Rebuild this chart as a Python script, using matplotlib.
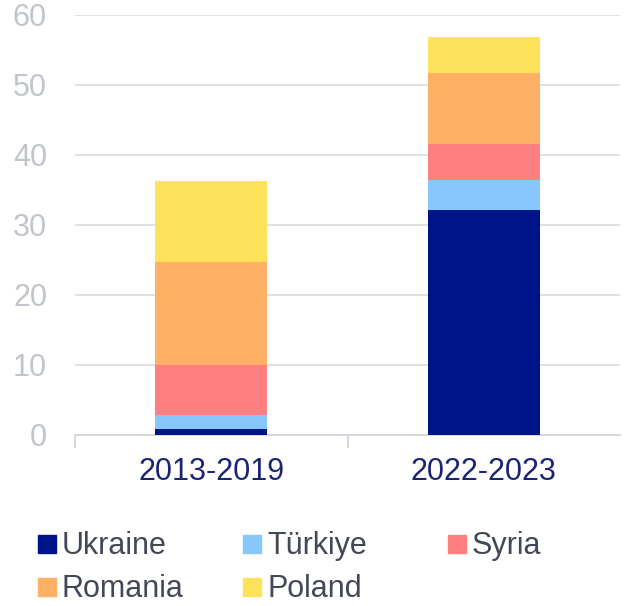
import numpy as np
import matplotlib.pyplot as plt
from matplotlib.patches import Rectangle

plt.rcParams['font.family'] = ['Liberation Sans', 'DejaVu Sans']

periods = ["2013-2019", "2022-2023"]
countries = ["Ukraine", "Türkiye", "Syria", "Romania", "Poland"]
ukraine = [0.8, 32.1]
turkiye = [2.0, 4.3]
syria = [7.2, 5.1]
romania = [14.6, 10.1]
poland = [11.6, 5.2]
colors = ["#001489", "#87c7fb", "#fe7f7f", "#feb064", "#fee25c"]

series = [ukraine, turkiye, syria, romania, poland]

W, H = 624, 606
fig = plt.figure(figsize=(W / 100, H / 100), dpi=100)
ax = fig.add_axes([0.12, 0.283, 0.874, 0.693])

x = np.arange(len(periods))
bottom = np.zeros(len(periods))
for vals, c in zip(series, colors):
    ax.bar(x, vals, width=0.41, bottom=bottom, color=c, zorder=3)
    bottom += np.array(vals)

ax.set_xlim(-0.5, 1.5)
ax.set_ylim(0, 60)
ax.set_yticks(np.arange(0, 61, 10))
ax.grid(axis="y", color="#d9dbe0", linewidth=1.2, zorder=0)
ax.tick_params(axis="y", length=0, pad=20, labelsize=22, labelcolor="#c0c4cb")

ax.set_xticks(x)
ax.set_xticklabels(periods)
ax.tick_params(axis="x", which="major", length=0, pad=16, labelsize=22, labelcolor="#1b2474")
ax.set_xticks([-0.5, 0.5], minor=True)
ax.tick_params(axis="x", which="minor", length=9, color="#d0d3d8", width=1.2)

for s in ["top", "right", "left"]:
    ax.spines[s].set_visible(False)
ax.spines["bottom"].set_color("#d0d3d8")
ax.spines["bottom"].set_linewidth(1.2)

# legend laid out by hand: 3 equal-width columns, 2 rows
col_x = [38, 243, 448]
row_y = [544, 587]
sq = 18
for i, (name, c) in enumerate(zip(countries, colors)):
    px = col_x[i % 3]
    py = row_y[i // 3]
    fig.patches.append(Rectangle((px / W, 1 - (py + sq / 2) / H), sq / W, sq / H,
                                 transform=fig.transFigure, color=c))
    fig.text((px + sq + 6) / W, 1 - (py + 2) / H, name, fontsize=22, color="#434857",
             va="center", ha="left")

fig.savefig("out.png", dpi=100)
